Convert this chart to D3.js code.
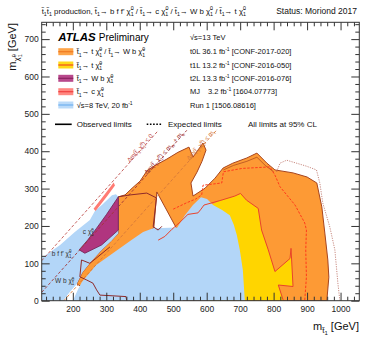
<!DOCTYPE html>
<html>
<head>
<meta charset="utf-8">
<script src="https://cdn.jsdelivr.net/npm/d3@7"></script>
<style>
  body { margin: 0; background: #fff; }
  svg { display: block; font-family: "Liberation Sans", Arial, Helvetica, sans-serif; }
</style>
</head>
<body>
<svg id="chart" width="382" height="346"></svg>
<script>
// --- exclusion contours, [m(stop), m(LSP)] in GeV ---
const t0LObs = [
  [212, 45], [228, 75], [255, 105], [286, 135], [315, 160], [336, 180], [336, 278], [356, 283],
  [377, 301], [401, 320], [421, 347], [448, 363], [481, 379], [514, 397], [547, 411], [559, 384],
  [589, 422], [598, 403], [586, 373], [571, 344], [553, 315], [559, 280], [595, 301], [625, 328],
  [649, 355], [678, 368], [720, 382], [750, 395], [780, 368], [804, 350], [858, 342], [900, 331],
  [929, 315], [944, 251], [953, 181], [962, 109], [965, 63], [959, 0], [530, 0], [520, 150],
  [512, 190], [451, 291], [442, 195], [400, 165], [350, 130], [300, 95], [260, 60], [225, 38]
];
const t0LInner = [[650, 350], [680, 362], [720, 373], [750, 384], [775, 362], [800, 345]];
const t0LExp = [
  [500, 245], [540, 262], [567, 272], [585, 283], [589, 309], [645, 315], [650, 345], [706, 354],
  [789, 358], [804, 336], [819, 305], [864, 256], [893, 208], [898, 189], [896, 136], [898, 64], [893, 0]
];
const t1LObs = [
  [455, 162], [475, 172], [496, 191], [520, 210], [544, 231], [574, 235], [583, 245], [592, 256],
  [640, 268], [684, 280], [701, 287], [719, 269], [754, 247], [764, 189], [784, 136], [804, 78],
  [849, 113], [852, 140], [858, 38], [814, 42], [829, 0]
];
const t1LFill = [[600, 0], [600, 250]].concat(t1LObs.slice(8));
const farExp = [
  [809, 345], [819, 368], [839, 376], [898, 360], [928, 350], [938, 315], [947, 261], [968, 197],
  [983, 136], [992, 47], [998, 0]
];
const t2LObs = [[219, 136], [245, 163], [271, 194], [300, 230], [336, 278], [336, 189], [286, 149], [236, 127]];
const t2LLineA = [[311, 144], [251, 100], [226, 109], [221, 64], [240, 56], [260, 47], [271, 29], [281, 15], [320, 13], [359, 11], [361, 0]];
const t2LLineB = [[336, 278], [371, 283], [421, 288], [450, 275], [440, 198], [455, 189], [466, 199]];
const mjObs = [[262, 246], [300, 290], [322, 316], [326, 308], [303, 280], [268, 240]];
const run1Left = [
  [107, 0], [107, 114], [162, 149], [206, 184], [251, 216], [266, 240], [290, 259], [317, 282],
  [329, 285], [336, 278], [336, 180], [315, 160], [286, 135], [255, 105], [228, 75], [212, 45], [191, 23], [171, 0]
];
const run1Right = [
  [200, 0], [215, 29], [227, 50], [269, 95], [329, 133], [371, 160], [410, 184], [440, 194],
  [512, 196], [535, 229], [559, 256], [583, 277], [601, 272], [619, 256], [646, 243], [669, 229],
  [681, 203], [690, 176], [699, 136], [708, 82], [714, 0]
];

// kinematic boundaries: m(LSP) = m(stop) - dm
const kinOffsets = [0, 84.6, 173.2];
const kinLabels = [
  'Δm(t\u0303_{1},χ\u0303^{0}_{1}) < 0',
  'Δm(t\u0303_{1},χ\u0303^{0}_{1}) < m_{W} + m_{b}',
  'Δm(t\u0303_{1},χ\u0303^{0}_{1}) < m_{t}'
];
const kinLabelAt = [405, 477, 586];
const kinColors = ['#c0504d', '#a33636', '#d5783a'];

const regionLabels = ["c χ\u0303^{0}_{1}", "b f f' χ\u0303^{0}_{1}", 'W b χ\u0303^{0}_{1}'];
const regionLabelAt = [[230, 178], [137, 120], [147, 47]];

const xMajor = [200, 300, 400, 500, 600, 700, 800, 900, 1000];
const yMajor = [0, 100, 200, 300, 400, 500, 600, 700];

const legendLabels = [
  't\u0303_{1}→ t χ\u0303^{0}_{1} / t\u0303_{1}→ W b χ\u0303^{0}_{1}',
  't\u0303_{1}→ t χ\u0303^{0}_{1}',
  't\u0303_{1}→ W b χ\u0303^{0}_{1}',
  't\u0303_{1}→ c χ\u0303^{0}_{1}',
  '√s=8 TeV, 20 fb^{-1}'
];
const legendRefs = [
  't0L 36.1 fb^{-1} [CONF-2017-020]',
  't1L 13.2 fb^{-1} [CONF-2016-050]',
  't2L 13.3 fb^{-1} [CONF-2016-076]',
  'MJ \u2002 3.2 fb^{-1} [1604.07773]',
  'Run 1 [1506.08616]'
];
const legendFills = ['#fd9a35', '#ffd500', '#b0357f', '#ff7b73', '#b3d6f8'];
const legendLines = ['#f07a22', '#f04a20', '#8a2260', '#f04040', '#6fb0ee'];

const colOrange = '#fd9a35', colYellow = '#ffd500', colPurple = '#b0357f',
      colSalmon = '#ff7b73', colBlue = '#b3d6f8';

// --- scales ---
const svg = d3.select('#chart');
const x = d3.scaleLinear().domain([107, 1056]).range([41.7, 359.3]);
const y = d3.scaleLinear().domain([0, 745]).range([300.7, 22.3]);
const line = d3.line().x(d => x(d[0])).y(d => y(d[1]));

// sub/superscript helper: _{..}, ^{..}, ^{..}_{..} (stacked)
function rich(t, str, fs) {
  const parts = str.split(/(\^\{[^}]*\}_\{[^}]*\}|_\{[^}]*\}|\^\{[^}]*\})/).filter(s => s.length);
  const small = fs * 0.68;
  let shift = 0;
  parts.forEach(p => {
    let m;
    if ((m = p.match(/^\^\{([^}]*)\}_\{([^}]*)\}$/))) {
      const up = -fs * 0.4, dn = fs * 0.3;
      t.append('tspan').attr('dy', up - shift).style('font-size', small + 'px').text(m[1]);
      t.append('tspan').attr('dx', -small * 0.56 * m[1].length).attr('dy', dn - up)
        .style('font-size', small + 'px').text(m[2]);
      shift = dn;
    } else if ((m = p.match(/^_\{([^}]*)\}$/))) {
      const dn = fs * 0.3;
      t.append('tspan').attr('dy', dn - shift).style('font-size', small + 'px').text(m[1]);
      shift = dn;
    } else if ((m = p.match(/^\^\{([^}]*)\}$/))) {
      const up = -fs * 0.4;
      t.append('tspan').attr('dy', up - shift).style('font-size', small + 'px').text(m[1]);
      shift = up;
    } else {
      t.append('tspan').attr('dy', -shift).text(p);
      shift = 0;
    }
  });
  return t;
}

svg.append('defs').append('clipPath').attr('id', 'plotclip')
  .append('rect')
    .attr('x', x.range()[0]).attr('y', y.range()[1])
    .attr('width', x.range()[1] - x.range()[0])
    .attr('height', y.range()[0] - y.range()[1]);

const plot = svg.append('g').attr('clip-path', 'url(#plotclip)');

function region(pts, fill, stroke, sw) {
  plot.append('path')
    .attr('d', line(pts) + 'Z')
    .attr('fill', fill)
    .attr('stroke', stroke || 'none')
    .attr('stroke-width', sw || 0)
    .attr('stroke-linejoin', 'round');
}
function contour(pts, color, sw, dash) {
  plot.append('path')
    .attr('d', line(pts))
    .attr('fill', 'none')
    .attr('stroke', color)
    .attr('stroke-width', sw)
    .attr('stroke-dasharray', dash || null)
    .attr('stroke-linejoin', 'round');
}

region(t0LObs, colOrange, '#a6441e', 1);
contour(t0LInner, '#a6441e', 0.7);
region(t1LFill, colYellow);
region(run1Left, colBlue);
region(run1Right, colBlue);
region(t2LObs, colPurple, '#6e1f4f', 0.8);
region(mjObs, colSalmon);

// kinematic lines
kinOffsets.forEach((dm, i) => {
  const x0 = Math.max(x.domain()[0], dm);
  contour([[x0, x0 - dm], [456 + dm, 456]], kinColors[i], 0.9, '3,2');
});

contour(t1LObs, '#e8432c', 1);
contour(t0LExp, '#ff3a1c', 1, '2.5,1.5');
contour(farExp, '#b0584a', 0.7, '1.2,1.2');
contour(t2LLineA, '#8e2a2a', 1);
contour(t2LLineB, '#8e2a2a', 1);

// labels along kinematic lines
const angle = Math.atan2(y(100) - y(0), x(100) - x(0)) * 180 / Math.PI;
kinOffsets.forEach((dm, i) => {
  const px = x(kinLabelAt[i]), py = y(kinLabelAt[i] - dm);
  const t = svg.append('text')
    .attr('transform', `translate(${px},${py}) rotate(${angle})`)
    .attr('text-anchor', 'middle')
    .attr('dy', -1.5)
    .attr('fill', kinColors[i])
    .style('font-size', '6.2px');
  rich(t, kinLabels[i], 6.2);
});

regionLabels.forEach((s, i) => {
  const t = svg.append('text')
    .attr('x', x(regionLabelAt[i][0])).attr('y', y(regionLabelAt[i][1]))
    .attr('fill', '#333')
    .style('font-size', '6.5px');
  rich(t, s, 6.5);
});

// --- axes ---
function styleAxis(g) {
  g.select('.domain').remove();
  g.selectAll('line').attr('stroke', '#333');
  g.selectAll('text').attr('fill', '#222').style('font-size', '8.5px')
    .style('font-family', '"Liberation Sans", Arial, sans-serif');
}
const xMinor = d3.range(120, 1056, 20).filter(v => v % 100 !== 0);
const yMinor = d3.range(20, 745, 20).filter(v => v % 100 !== 0);

svg.append('g').attr('transform', `translate(0,${y.range()[0]})`)
  .call(d3.axisBottom(x).tickValues(xMajor).tickSize(-8).tickPadding(5).tickFormat(d3.format('d')))
  .call(styleAxis);
svg.append('g').attr('transform', `translate(0,${y.range()[0]})`)
  .call(d3.axisBottom(x).tickValues(xMinor).tickSize(-4).tickFormat(''))
  .call(styleAxis);
svg.append('g').attr('transform', `translate(0,${y.range()[1]})`)
  .call(d3.axisTop(x).tickValues(xMajor).tickSize(-8).tickFormat(''))
  .call(styleAxis);
svg.append('g').attr('transform', `translate(0,${y.range()[1]})`)
  .call(d3.axisTop(x).tickValues(xMinor).tickSize(-4).tickFormat(''))
  .call(styleAxis);
svg.append('g').attr('transform', `translate(${x.range()[0]},0)`)
  .call(d3.axisLeft(y).tickValues(yMajor).tickSize(-8).tickPadding(3).tickFormat(d3.format('d')))
  .call(styleAxis);
svg.append('g').attr('transform', `translate(${x.range()[0]},0)`)
  .call(d3.axisLeft(y).tickValues(yMinor).tickSize(-4).tickFormat(''))
  .call(styleAxis);
svg.append('g').attr('transform', `translate(${x.range()[1]},0)`)
  .call(d3.axisRight(y).tickValues(yMajor).tickSize(-8).tickFormat(''))
  .call(styleAxis);
svg.append('g').attr('transform', `translate(${x.range()[1]},0)`)
  .call(d3.axisRight(y).tickValues(yMinor).tickSize(-4).tickFormat(''))
  .call(styleAxis);

svg.append('rect')
  .attr('x', x.range()[0]).attr('y', y.range()[1])
  .attr('width', x.range()[1] - x.range()[0])
  .attr('height', y.range()[0] - y.range()[1])
  .attr('fill', 'none').attr('stroke', '#333').attr('stroke-width', 1);

// axis titles
const xt = svg.append('text').attr('x', 359).attr('y', 330).attr('text-anchor', 'end')
  .style('font-size', '11px').attr('fill', '#111');
xt.append('tspan').text('m');
xt.append('tspan').attr('dy', 3).style('font-size', '8px').text('t\u0303');
xt.append('tspan').attr('dy', 2).style('font-size', '6px').text('1');
xt.append('tspan').attr('dy', -5).text(' [GeV]');

const yt = svg.append('text').attr('transform', 'translate(16,23) rotate(-90)')
  .attr('text-anchor', 'end').style('font-size', '11px').attr('fill', '#111');
yt.append('tspan').text('m');
yt.append('tspan').attr('dy', 3).style('font-size', '8px').text('χ\u0303');
yt.append('tspan').attr('dy', -3.5).style('font-size', '5.5px').text('0');
yt.append('tspan').attr('dx', -3).attr('dy', 6).style('font-size', '5.5px').text('1');
yt.append('tspan').attr('dy', -5.5).text(' [GeV]');

// title line
rich(svg.append('text').attr('x', 41.7).attr('y', 13.5).attr('fill', '#111').style('font-size', '7.8px'),
  "t\u0303_{1}t\u0303_{1} production, t\u0303_{1}→ b f f' χ\u0303^{0}_{1} / t\u0303_{1}→ c χ\u0303^{0}_{1} / t\u0303_{1}→ W b χ\u0303^{0}_{1} / t\u0303_{1}→ t χ\u0303^{0}_{1}", 7.8);
svg.append('text').attr('x', 357).attr('y', 13.5).attr('text-anchor', 'end')
  .attr('fill', '#111').style('font-size', '8.5px').text('Status: Moriond 2017');

// ATLAS label
const atl = svg.append('text').attr('x', 58.3).attr('y', 41).attr('fill', '#000');
atl.append('tspan').style('font-size', '11.5px').style('font-weight', 'bold').style('font-style', 'italic').text('ATLAS');
atl.append('tspan').attr('dx', 3).style('font-size', '10px').text('Preliminary');
svg.append('text').attr('x', 190).attr('y', 40).style('font-size', '7.5px').attr('fill', '#111').text('√s=13 TeV');

// legend
const rowY = [51.7, 65, 78.3, 91.7, 105];
legendLabels.forEach((s, i) => {
  const c = rowY[i];
  svg.append('rect').attr('x', 58.3).attr('y', c - 3.5).attr('width', 15).attr('height', 7)
    .attr('fill', legendFills[i]).attr('opacity', 0.9);
  svg.append('line').attr('x1', 58.3).attr('x2', 73.3).attr('y1', c).attr('y2', c)
    .attr('stroke', legendLines[i]).attr('stroke-width', 1.2);
  rich(svg.append('text').attr('x', 76.7).attr('y', c + 2.6).attr('fill', '#111').style('font-size', '7.5px'), s, 7.5);
  rich(svg.append('text').attr('x', 190).attr('y', c + 2.6).attr('fill', '#111').style('font-size', '7.5px'), legendRefs[i], 7.5);
});

svg.append('line').attr('x1', 55).attr('x2', 71.7).attr('y1', 124.3).attr('y2', 124.3)
  .attr('stroke', '#000').attr('stroke-width', 1.6);
svg.append('text').attr('x', 76.7).attr('y', 127.3).style('font-size', '8px').attr('fill', '#111').text('Observed limits');
svg.append('line').attr('x1', 146.7).attr('x2', 161.7).attr('y1', 124.3).attr('y2', 124.3)
  .attr('stroke', '#000').attr('stroke-width', 1.6).attr('stroke-dasharray', '1.6,1.6');
svg.append('text').attr('x', 168).attr('y', 127.3).style('font-size', '8px').attr('fill', '#111').text('Expected limits');
svg.append('text').attr('x', 248).attr('y', 127.3).style('font-size', '8px').attr('fill', '#111').text('All limits at 95% CL');
</script>
</body>
</html>
